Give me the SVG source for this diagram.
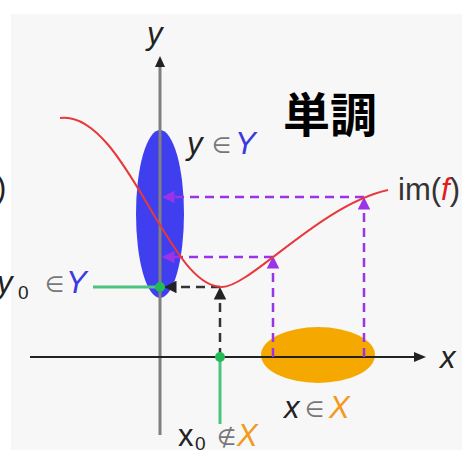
<svg xmlns="http://www.w3.org/2000/svg" width="462" height="450" viewBox="0 0 462 450">
<defs>
<style>
.lbl{font-family:"Liberation Sans","DejaVu Sans",sans-serif;font-size:31px;fill:#222}
.it{font-style:italic}
.el{fill:#777;font-size:22px}
.sub{font-size:19px}
.pd{stroke:#9b33e6;stroke-width:2.5;stroke-dasharray:9,6;fill:none}
.bd{stroke:#333;stroke-width:2.5;stroke-dasharray:9,6;fill:none}
.gr{stroke:#4cc47f;stroke-width:3;fill:none}
</style>
<marker id="ap" viewBox="0 0 10 10" refX="2" refY="5" markerWidth="5" markerHeight="5" orient="auto"><path d="M0,0L10,5L0,10z" fill="#9b33e6"/></marker>
<marker id="ab" viewBox="0 0 10 10" refX="2" refY="5" markerWidth="5" markerHeight="5" orient="auto"><path d="M0,0L10,5L0,10z" fill="#222"/></marker>
</defs>
<rect x="11" y="14" width="451" height="436" fill="#f7f7f7"/>
<text class="lbl" x="-4" y="198" font-size="26">)</text>
<g id="setY"><ellipse cx="160" cy="214" rx="24" ry="84" fill="#3f3ff0"/></g>
<g id="setX"><ellipse cx="318" cy="355" rx="57" ry="28" fill="#f5a900"/></g>
<g id="axes">
<line x1="160" y1="435" x2="160" y2="60" stroke="#808080" stroke-width="3"/>
<path d="M160,56 L155,67 L165,67 z" fill="#222"/>
<line x1="30" y1="357" x2="420" y2="357" stroke="#222" stroke-width="2"/>
<path d="M426,357 L414,352 L414,362 z" fill="#222"/>
</g>
<g id="connectors">
<path class="pd" d="M364,197 H172" marker-end="url(#ap)"/>
<path class="pd" d="M273,257 H172" marker-end="url(#ap)"/>
<path class="pd" d="M364,357 V207" marker-end="url(#ap)"/>
<path class="pd" d="M273,357 V266" marker-end="url(#ap)"/>
<path class="bd" d="M220,287 H174" marker-end="url(#ab)"/>
<path class="bd" d="M220,357 V297" marker-end="url(#ab)"/>
<path class="gr" d="M93,287 H160"/>
<path class="gr" d="M220,357 V424"/>
</g>
<g id="curve"><path d="M60,118 C100,112 135,185 160,225 C173,245 195,287 222,287 C250,287 320,205 388,190" fill="none" stroke="#e8383c" stroke-width="2"/></g>
<g id="points">
<circle cx="160" cy="287" r="5" fill="#22bb55"/>
<circle cx="220" cy="357" r="5" fill="#22bb55"/>
</g>
<g id="labels">
<text class="lbl it" x="147" y="44" font-size="32">y</text>
<text class="lbl it" x="440" y="368" font-size="30">x</text>
<text class="lbl"><tspan class="it" x="187" y="154">y</tspan><tspan class="el" x="212" y="153">∈</tspan><tspan class="it" x="235" y="154" fill="#3a3ae0">Y</tspan></text>
<text class="lbl"><tspan class="it" x="-3" y="293">y</tspan><tspan class="sub" x="18" y="299">0</tspan><tspan class="el" x="45" y="292">∈</tspan><tspan class="it" x="66" y="293" fill="#3a3ae0">Y</tspan></text>
<text class="lbl"><tspan class="it" x="284" y="418">x</tspan><tspan class="el" x="305" y="417">∈</tspan><tspan class="it" x="329" y="418" fill="#f39a1e">X</tspan></text>
<text class="lbl"><tspan x="178" y="446">x</tspan><tspan class="sub" x="195" y="450">0</tspan><tspan class="el" x="217" y="445">∉</tspan><tspan class="it" x="237" y="446" fill="#f39a1e">X</tspan></text>
<text class="lbl" x="398" y="200"><tspan fill="#333">im(</tspan><tspan class="it" fill="#e02020">f</tspan><tspan fill="#333">)</tspan></text>
<text x="330" y="132" text-anchor="middle" font-family="'Noto Sans CJK JP','Noto Sans CJK SC',sans-serif" font-weight="bold" font-size="47" fill="#000">単調</text>
</g>
</svg>
